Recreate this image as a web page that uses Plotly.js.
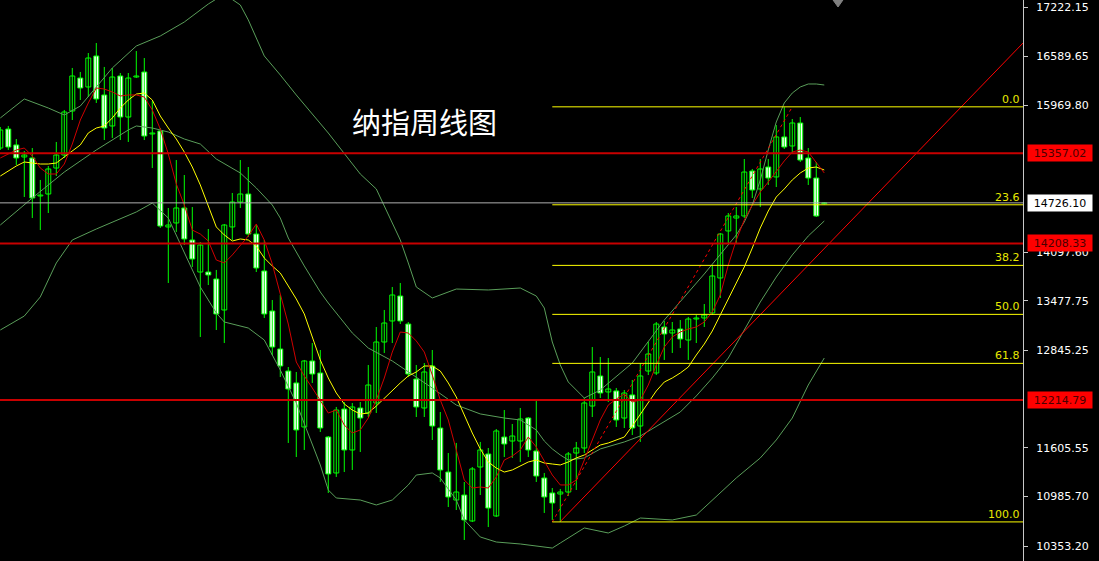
<!DOCTYPE html>
<html>
<head>
<meta charset="utf-8">
<script src="https://cdn.plot.ly/plotly-3.0.1.min.js"></script>
<style>
  html, body { margin: 0; padding: 0; background: #000; }
  #chart { width: 1099px; height: 561px; }
</style>
</head>
<body>
<div id="chart"></div>
<script>
// Weekly Nasdaq candles (oldest to newest)
const open = [15425, 15667, 15464, 15311, 15298, 14814, 14839, 15170, 15336, 15897,
  16317, 16203, 16598, 16101, 15706, 16343, 15820, 16330, 16394, 15604,
  15642, 14419, 14470, 14661, 14253, 13845, 13845, 13756, 13361, 14419,
  14737, 14839, 14329, 13858, 13348, 12864, 12583, 12431, 11870, 12711,
  12558, 11742, 11284, 12099, 11577, 12112, 12048, 12176, 12953, 13221,
  13539, 13182, 12481, 12112, 12647, 11857, 11296, 10939, 11003, 10672,
  11360, 11526, 10736, 11742, 11691, 11691, 11984, 11564, 11220, 11029,
  11016, 11041, 11538, 11602, 12137, 12520, 12316, 12329, 11984, 12278,
  11882, 12583, 12558, 13144, 13068, 13119, 12978, 13246, 13259, 13323,
  13769, 14368, 14533, 14559, 15132, 14903, 15183, 15056, 15566, 15451,
  15744, 15298, 15043, 14715];
const high = [15693, 15706, 15540, 15387, 15425, 15018, 15196, 15502, 15910, 16445,
  16394, 16636, 16763, 16458, 16445, 16381, 16381, 16661, 16572, 16024,
  15680, 14661, 15272, 15081, 14673, 14227, 14393, 13871, 14457, 14852,
  15272, 15183, 14444, 14253, 13488, 13552, 12634, 12571, 12724, 12940,
  12851, 11755, 12125, 12188, 12176, 12188, 12660, 13144, 13361, 13654,
  13705, 13208, 12660, 12685, 12851, 12061, 11538, 11666, 11169, 11360,
  11679, 11602, 11844, 12086, 11908, 12112, 11997, 12201, 11284, 11092,
  11080, 11551, 11679, 12239, 12889, 12762, 12749, 12367, 12341, 12469,
  12685, 12953, 13208, 13221, 13208, 13233, 13272, 13297, 13437, 13934,
  14342, 14597, 14673, 15285, 15158, 15285, 15285, 15718, 15945, 15795,
  15820, 15425, 15247, 14735];
const low = [15400, 15400, 15209, 14801, 14533, 14380, 14597, 15068, 15298, 15782,
  16037, 16075, 15999, 15527, 15553, 15527, 15502, 16317, 15527, 15170,
  14406, 13705, 14355, 14189, 13909, 13017, 13679, 13106, 12940, 14253,
  14661, 14291, 13845, 13259, 12787, 12507, 11666, 11487, 11577, 12431,
  11806, 11029, 11233, 11296, 11322, 11551, 11997, 12048, 12813, 12940,
  13182, 12507, 11997, 11997, 11704, 11169, 10850, 10812, 10430, 10659,
  11003, 10595, 10723, 11487, 11475, 11424, 11487, 11169, 10774, 10685,
  10659, 10990, 11067, 11538, 11997, 12239, 12188, 11870, 11857, 11768,
  11679, 12532, 12532, 12724, 12813, 12876, 12724, 12940, 13144, 13297,
  13514, 14215, 14215, 14533, 14788, 14673, 14954, 14928, 15413, 15362,
  15247, 14954, 14546, 14705];
const close = [15655, 15438, 15298, 15336, 14788, 14826, 15158, 15336, 15884, 16343,
  16190, 16572, 16050, 15680, 16330, 15820, 16317, 16343, 15578, 15616,
  14431, 14444, 14661, 14266, 14011, 14189, 13807, 13310, 14444, 14737,
  14839, 14329, 13896, 13310, 12889, 12647, 12354, 11832, 12711, 12545,
  11857, 11271, 12086, 11577, 12125, 11984, 12405, 12953, 13195, 13552,
  13221, 12545, 12125, 12571, 11882, 11322, 10978, 11041, 10685, 11335,
  11577, 10837, 11819, 11653, 11755, 11972, 11577, 11245, 10978, 10901,
  11041, 11526, 11602, 12176, 12571, 12303, 12354, 11959, 12303, 11857,
  12520, 12800, 13182, 13055, 13106, 12991, 13246, 13259, 13297, 13794,
  14329, 14559, 14559, 15119, 14890, 15158, 15043, 15566, 15438, 15744,
  15272, 15043, 14559, 14726.10];

// Moving averages, one value per candle
const maFast = [15298, 15349, 15400, 15425, 15323, 15170, 15094, 15094, 15221, 15476,
  15782, 15999, 16190, 16177, 16139, 16088, 16101, 16101, 16075, 15910,
  15667, 15349, 14967, 14699, 14380, 14329, 14240, 13998, 13960, 14062,
  14176, 14304, 14457, 14253, 13947, 13552, 13182, 12698, 12520, 12367,
  12214, 12048, 12086, 11895, 11793, 11832, 11984, 12214, 12494, 12825,
  13080, 13068, 12966, 12825, 12532, 12214, 11959, 11577, 11194, 11092,
  11105, 11092, 11233, 11449, 11500, 11577, 11742, 11615, 11437, 11258,
  11131, 11131, 11194, 11449, 11729, 11959, 12150, 12226, 12290, 12188,
  12214, 12405, 12660, 12889, 13017, 13080, 13119, 13144, 13208, 13335,
  13552, 13934, 14253, 14508, 14699, 14865, 14992, 15132, 15260, 15374,
  15400, 15374, 15247, 15107];
const maSlow = [15068, 15132, 15196, 15247, 15234, 15221, 15221, 15234, 15311, 15387,
  15464, 15617, 15680, 15706, 15808, 15935, 16037, 16113, 16126, 16037,
  15833, 15680, 15540, 15374, 15183, 14954, 14686, 14419, 14317, 14240,
  14266, 14253, 14176, 14023, 13922, 13832, 13667, 13501, 13310, 13030,
  12724, 12494, 12303, 12163, 12086, 12035, 12048, 12137, 12239, 12341,
  12431, 12520, 12571, 12647, 12647, 12583, 12431, 12252, 12023, 11793,
  11590, 11424, 11347, 11296, 11322, 11373, 11424, 11449, 11411, 11398,
  11386, 11424, 11475, 11513, 11577, 11640, 11666, 11704, 11742, 11882,
  12035, 12188, 12329, 12443, 12494, 12558, 12634, 12787, 12927, 13093,
  13297, 13488, 13705, 13909, 14151, 14406, 14622, 14801, 14903, 15018,
  15107, 15170, 15183, 15145];

// Bollinger bands (candle index, value)
const bbUpperX = [0, 3, 6, 8, 10, 14, 17, 20, 23, 26, 28, 30, 31, 33, 35, 37, 41, 45, 47, 50,
  51, 52, 54, 57, 61, 65, 67, 68, 69, 70, 71, 73, 75, 79, 83, 88, 92, 93, 94, 95,
  96, 97, 98, 99, 100, 101, 102, 103];
const bbUpperY = [15808, 16050, 15935, 15846, 15960, 16445, 16725, 16853, 17031, 17260,
  17388, 17248, 17057, 16598, 16356, 16101, 15616, 15094, 14903, 14253,
  13960, 13654, 13514, 13628, 13616, 13641, 13539, 13386, 12953, 12660,
  12443, 12239, 12341, 12685, 13233, 13820, 14317, 14482, 14699, 15018,
  15400, 15757, 15999, 16126, 16203, 16241, 16241, 16228];
const bbMidX = [0, 4, 8, 12, 16, 17, 19, 21, 23, 25, 27, 30, 32, 34, 35, 36, 37, 38, 40, 41,
  44, 46, 49, 52, 54, 57, 60, 63, 65, 67, 68, 69, 70, 71, 73, 75, 78, 80, 83, 85,
  87, 89, 91, 93, 95, 97, 99, 101, 103];
const bbMidY = [14444, 14788, 15119, 15400, 15655, 15706, 15680, 15629, 15540, 15476,
  15285, 15107, 14916, 14699, 14533, 14278, 14100, 13922, 13590, 13450,
  13068, 12876, 12711, 12507, 12366, 12150, 12036, 11984, 11959, 11832,
  11691, 11590, 11513, 11449, 11475, 11590, 11679, 11755, 11933, 12061,
  12265, 12494, 12749, 13106, 13463, 13781, 14062, 14304, 14495];
const bbLowX = [0, 3, 5, 7, 9, 12, 17, 19, 21, 23, 25, 27, 28, 31, 33, 35, 37, 40, 41, 42,
  45, 47, 49, 51, 52, 54, 55, 57, 58, 60, 62, 65, 68, 69, 70, 73, 76, 78, 80, 84,
  87, 89, 92, 95, 97, 99, 101, 103];
const bbLowY = [13106, 13284, 13527, 13960, 14253, 14393, 14610, 14724, 14533, 14100,
  13654, 13323, 13208, 13131, 12978, 12596, 12176, 11385, 11067, 10965,
  10939, 10876, 10939, 11131, 11258, 11284, 11220, 10939, 10685, 10468,
  10404, 10379, 10340, 10327, 10391, 10583, 10519, 10608, 10710, 10685,
  10748, 10939, 11220, 11475, 11704, 11984, 12405, 12749];

// Horizontal support / resistance levels and the last price
const keyLevels = [15357.02, 14208.33, 12214.79];
const lastPrice = 14726.10;

// Fibonacci retracement of the last up-leg
const fibLevels = [0.0, 23.6, 38.2, 50.0, 61.8, 100.0];
const fibHigh = 15950;
const fibLow = 10660;
const fibStartIdx = 69;
const fibEndIdx = 99;

// Rising trend line from the swing low
const trendX = [70, 127.84];
const trendY = [10665, 16763];

// Price axis labels
const axisTicks = [17222.15, 16589.65, 15969.80, 14097.60, 13477.75, 12845.25, 11605.55, 10985.70, 10353.20];

const chartTitle = '纳指周线图';

// ---------------------------------------------------------------
const xRange = [-0.0375, 127.84];
const yRange = [10162.0, 17311.4];
const idx = open.map((_, i) => i);

const wickX = [], wickY = [];
idx.forEach(i => {
  wickX.push(i, i, null);
  wickY.push(low[i], high[i], null);
});
const bodyBase = idx.map(i => Math.min(open[i], close[i]));
const bodyLen = idx.map(i => Math.abs(close[i] - open[i]));
const bodyFill = idx.map(i => (close[i] >= open[i] ? '#000000' : '#ffffff'));

const candleGreen = '#00ff00';
const bandColor = '#5a9e5a';

const traces = [
  { type: 'scatter', mode: 'lines', x: wickX, y: wickY,
    line: { color: candleGreen, width: 1 }, hoverinfo: 'skip' },
  { type: 'bar', x: idx, y: bodyLen, base: bodyBase, width: 0.62,
    marker: { color: bodyFill, line: { color: candleGreen, width: 1 } }, hoverinfo: 'skip' },
  { type: 'scatter', mode: 'lines', x: bbUpperX, y: bbUpperY,
    line: { color: bandColor, width: 1 }, hoverinfo: 'skip' },
  { type: 'scatter', mode: 'lines', x: bbMidX, y: bbMidY,
    line: { color: bandColor, width: 1 }, hoverinfo: 'skip' },
  { type: 'scatter', mode: 'lines', x: bbLowX, y: bbLowY,
    line: { color: bandColor, width: 1 }, hoverinfo: 'skip' },
  { type: 'scatter', mode: 'lines', x: idx, y: maSlow,
    line: { color: '#ffff00', width: 1 }, hoverinfo: 'skip' },
  { type: 'scatter', mode: 'lines', x: idx, y: maFast,
    line: { color: '#d00000', width: 1 }, hoverinfo: 'skip' },
  { type: 'scatter', mode: 'lines', x: [fibStartIdx, fibEndIdx], y: [fibLow, fibHigh],
    line: { color: '#ff0000', width: 1, dash: 'dot' }, hoverinfo: 'skip' },
  { type: 'scatter', mode: 'lines', x: trendX, y: trendY,
    line: { color: '#ff0000', width: 1 }, hoverinfo: 'skip' }
];

const shapes = [];
keyLevels.forEach(v => shapes.push({
  type: 'line', xref: 'paper', x0: 0, x1: 1, yref: 'y', y0: v, y1: v,
  line: { color: '#c80000', width: 2 }
}));
shapes.push({
  type: 'line', xref: 'paper', x0: 0, x1: 1, yref: 'y', y0: lastPrice, y1: lastPrice,
  line: { color: '#b0b0b0', width: 1 }
});
const fibPrice = lv => fibHigh - (fibHigh - fibLow) * lv / 100;
fibLevels.forEach(lv => shapes.push({
  type: 'line', xref: 'x', x0: fibStartIdx, x1: xRange[1], yref: 'y',
  y0: fibPrice(lv), y1: fibPrice(lv),
  line: { color: '#ffff00', width: 1 }
}));
shapes.push({
  type: 'path', xref: 'paper', yref: 'paper',
  path: 'M 0.8143,1 L 0.8240,1 L 0.8192,0.9875 Z',
  fillcolor: '#808080', line: { color: '#808080', width: 1 }
});

const annotations = [];
keyLevels.forEach(v => annotations.push({
  xref: 'paper', x: 1, xanchor: 'left', xshift: 4,
  yref: 'y', y: v, yanchor: 'middle',
  text: v.toFixed(2), showarrow: false,
  bgcolor: '#ff0000', borderpad: 1, width: 62, height: 14, align: 'center',
  font: { family: 'DejaVu Sans', size: 11, color: '#4a0000' }
}));
annotations.push({
  xref: 'paper', x: 1, xanchor: 'left', xshift: 4,
  yref: 'y', y: lastPrice, yanchor: 'middle',
  text: lastPrice.toFixed(2), showarrow: false,
  bgcolor: '#ffffff', borderpad: 1, width: 62, height: 14, align: 'center',
  font: { family: 'DejaVu Sans', size: 11, color: '#000000' }
});
fibLevels.forEach(lv => annotations.push({
  xref: 'paper', x: 1, xanchor: 'right', xshift: -1,
  yref: 'y', y: fibPrice(lv), yanchor: 'bottom', yshift: -1,
  text: lv.toFixed(1), showarrow: false,
  font: { family: 'DejaVu Sans', size: 11, color: '#e8e800' }
}));
annotations.push({
  xref: 'paper', x: 424 / 1023, xanchor: 'center',
  yref: 'paper', y: 1 - 121 / 561, yanchor: 'middle',
  text: chartTitle, showarrow: false,
  font: { family: 'Noto Sans CJK SC', size: 29, color: '#ffffff' }
});

const layout = {
  width: 1099, height: 561,
  margin: { l: 0, r: 76, t: 0, b: 0, pad: 0 },
  paper_bgcolor: '#000000', plot_bgcolor: '#000000',
  showlegend: false,
  xaxis: { range: xRange, visible: false, fixedrange: true },
  yaxis: {
    side: 'right', range: yRange, fixedrange: true,
    showgrid: false, zeroline: false,
    showline: true, linecolor: '#c8c8c8', linewidth: 1,
    ticks: 'outside', ticklen: 4, tickcolor: '#c8c8c8',
    tickvals: axisTicks, ticktext: axisTicks.map(v => v.toFixed(2)),
    ticklabelstandoff: 6,
    tickfont: { family: 'DejaVu Sans', size: 11, color: '#ffffff' }
  },
  shapes: shapes,
  annotations: annotations
};

Plotly.newPlot('chart', traces, layout, { staticPlot: true, displayModeBar: false });
</script>
</body>
</html>
